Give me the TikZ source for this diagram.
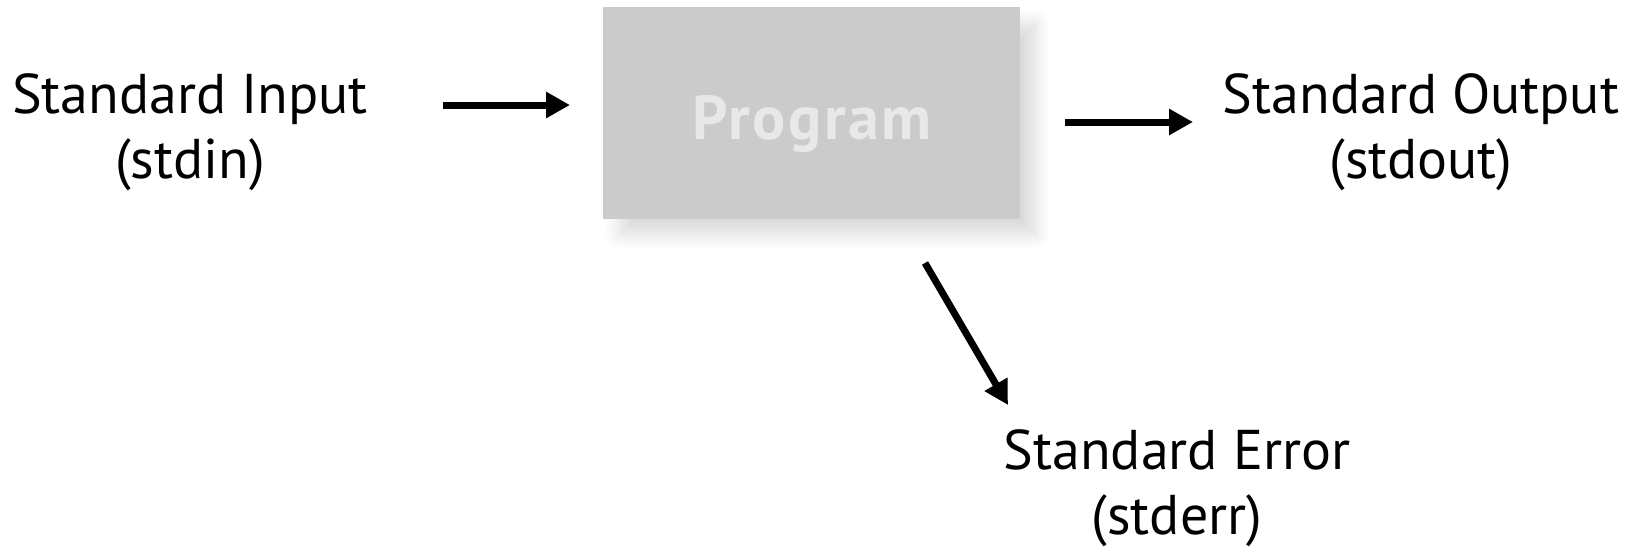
\documentclass[tikz,border=0pt]{standalone}
\usepackage{fontspec}
\setmainfont{PT Sans}
\usetikzlibrary{arrows.meta,shadows.blur}
\definecolor{boxgray}{HTML}{CBCBCB}
\definecolor{textgray}{HTML}{E8E8E8}
\tikzset{
  label/.style={align=center,font=\fontsize{56}{65}\selectfont,inner sep=0pt},
  flow/.style={line width=7pt,-{Triangle[length=24pt,width=25pt]}},
  progbox/.style={fill=boxgray,draw=none,minimum width=417pt,minimum height=212pt,inner sep=0pt,
    blur shadow={shadow xshift=16pt,shadow yshift=-16pt,shadow blur radius=14pt,shadow blur steps=14,shadow opacity=14}},
}
\begin{document}
\begin{tikzpicture}[x=1pt,y=-1pt]
\useasboundingbox (0,0) rectangle (1635,550);
\node[progbox] (prog) at (811.5,113) {};
\node[font=\fontsize{62}{70}\bfseries\selectfont,text=textgray] (progtext) at (812,124) {\addfontfeatures{LetterSpace=4}Program};
\node[label] (in) at (190,132) {Standard Input\\(stdin)};
\node[label] (out) at (1421,132) {Standard Output\\(stdout)};
\node[label] (err) at (1177,488) {Standard Error\\(stderr)};
\coordinate (inA) at (443,105);
\coordinate (inB) at (570,105);
\coordinate (outA) at (1065,122);
\coordinate (outB) at (1193,122);
\coordinate (errA) at (925,263);
\coordinate (errB) at (1008,405);
\draw[flow] (inA) -- (inB);
\draw[flow] (outA) -- (outB);
\draw[flow] (errA) -- (errB);
\end{tikzpicture}
\end{document}
